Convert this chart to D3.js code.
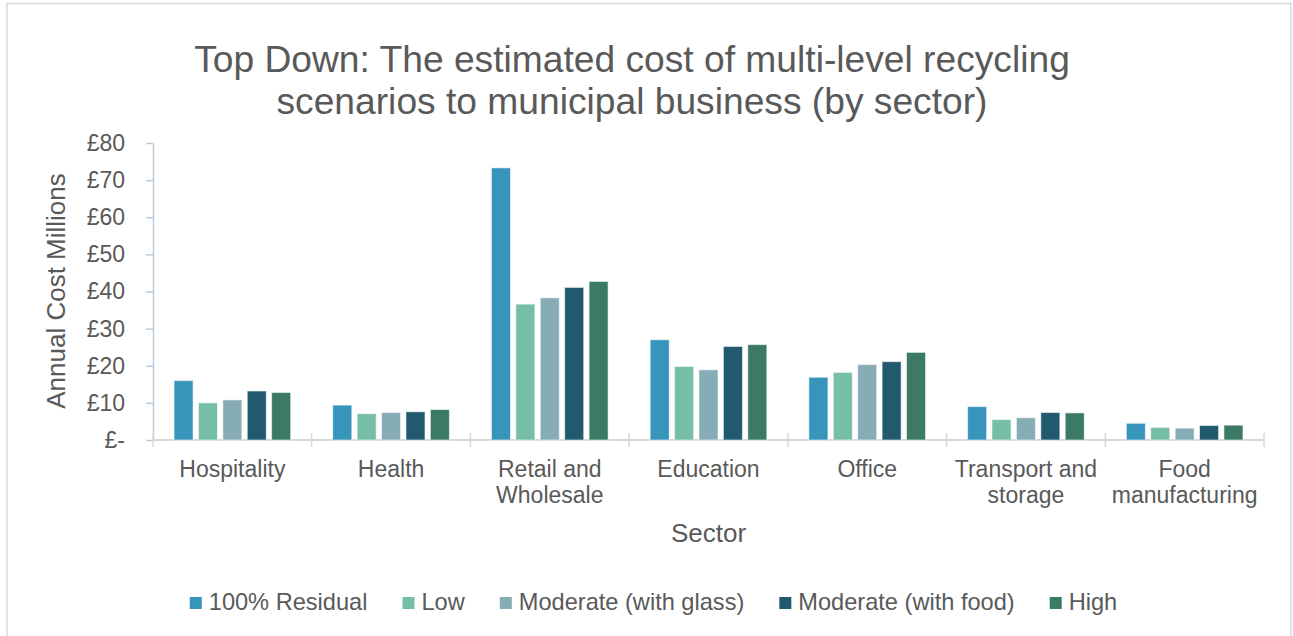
<!DOCTYPE html>
<html>
<head>
<meta charset="utf-8">
<script src="https://cdn.jsdelivr.net/npm/d3@7"></script>
<style>
  html, body { margin: 0; padding: 0; background: #fff; }
  svg { display: block; font-family: "Liberation Sans", Arial, sans-serif; }
</style>
</head>
<body>
<svg id="chart" width="1293" height="636"></svg>
<script>
// Sectors on the x axis
const sectors = [
  ["Hospitality"],
  ["Health"],
  ["Retail and", "Wholesale"],
  ["Education"],
  ["Office"],
  ["Transport and", "storage"],
  ["Food", "manufacturing"]
];

// Recycling scenarios (series)
const scenarios = ["100% Residual", "Low", "Moderate (with glass)", "Moderate (with food)", "High"];
const scenarioColors = ["#3794BB", "#77BEA6", "#86ACB6", "#215A6F", "#3B7B66"];

// Annual cost (£ millions) per scenario, one value per sector
const residual100 = [16.0, 9.4, 73.3, 27.0, 16.9, 9.0, 4.5];
const low         = [10.0, 7.1, 36.6, 19.8, 18.2, 5.5, 3.4];
const modGlass    = [10.8, 7.4, 38.3, 18.9, 20.3, 6.0, 3.2];
const modFood     = [13.2, 7.6, 41.1, 25.2, 21.1, 7.4, 3.9];
const high        = [12.8, 8.2, 42.7, 25.7, 23.6, 7.3, 4.0];
const seriesValues = [residual100, low, modGlass, modFood, high];

// Value axis ticks
const yTicks = [0, 10, 20, 30, 40, 50, 60, 70, 80];
const yTickLabel = v => v === 0 ? "£-" : "£" + v;

const titleLines = [
  "Top Down: The estimated cost of multi-level recycling",
  "scenarios to municipal business (by sector)"
];

const textColor = "#595959";
const svg = d3.select("#chart");

// Outer frame
svg.append("rect")
  .attr("x", 7).attr("y", 3.5)
  .attr("width", 1284).attr("height", 650)
  .attr("fill", "none").attr("stroke", "#D9D9D9").attr("stroke-width", 1.5);

const plot = { left: 153, right: 1264, top: 143, bottom: 440 };
const sectorKeys = sectors.map(s => s.join(" "));

const x0 = d3.scaleBand()
  .domain(sectorKeys)
  .range([plot.left, plot.right])
  .paddingInner(0.265)
  .paddingOuter(0.1325);

const x1 = d3.scaleBand()
  .domain(scenarios)
  .range([0, x0.bandwidth()])
  .paddingInner(0.22);

const y = d3.scaleLinear().domain([0, 80]).range([plot.bottom, plot.top]);

// Title
svg.append("text")
  .attr("x", 632).attr("y", 72)
  .attr("text-anchor", "middle")
  .attr("fill", textColor)
  .style("font-size", "37.2px")
  .selectAll("tspan")
  .data(titleLines)
  .join("tspan")
  .attr("x", 632)
  .attr("dy", (d, i) => i === 0 ? 0 : 42)
  .text(d => d);

// Y axis
const yAxis = d3.axisLeft(y)
  .tickValues(yTicks)
  .tickFormat(yTickLabel)
  .tickSizeInner(7)
  .tickSizeOuter(0)
  .tickPadding(21);

const yG = svg.append("g")
  .attr("transform", `translate(${plot.left},0)`)
  .call(yAxis);
yG.select(".domain").attr("stroke", "#B9CCDD").attr("stroke-width", 1.5);
yG.selectAll(".tick line").attr("stroke", "#B9CCDD").attr("stroke-width", 1.5);
yG.selectAll(".tick text")
  .attr("fill", textColor)
  .style("font-size", "23px")
  .style("font-family", "'Liberation Sans', Arial, sans-serif");

// X axis baseline and category separators
const xG = svg.append("g");
xG.append("line")
  .attr("x1", plot.left).attr("x2", plot.right)
  .attr("y1", y(0)).attr("y2", y(0))
  .attr("stroke", "#D9D9D9").attr("stroke-width", 2);

const boundaries = sectorKeys.map(k => x0(k) - x0.step() * x0.paddingInner() / 2)
  .concat([plot.right]);
xG.selectAll("line.sep")
  .data(boundaries)
  .join("line")
  .attr("class", "sep")
  .attr("x1", d => d).attr("x2", d => d)
  .attr("y1", y(0) - 7).attr("y2", y(0) + 7)
  .attr("stroke", "#D9D9D9").attr("stroke-width", 1.5);

// Bars
const groups = svg.append("g")
  .selectAll("g")
  .data(sectorKeys)
  .join("g")
  .attr("transform", d => `translate(${x0(d)},0)`);

groups.selectAll("rect")
  .data((d, i) => scenarios.map((s, j) => ({ s, j, v: seriesValues[j][i] })))
  .join("rect")
  .attr("x", d => x1(d.s))
  .attr("y", d => y(d.v))
  .attr("width", x1.bandwidth())
  .attr("height", d => y(0) - y(d.v))
  .attr("fill", d => scenarioColors[d.j])
  .attr("stroke", "#ffffff")
  .attr("stroke-opacity", 0.55)
  .attr("stroke-width", 1);

// Category labels
svg.append("g")
  .selectAll("text")
  .data(sectors)
  .join("text")
  .attr("text-anchor", "middle")
  .attr("fill", textColor)
  .style("font-size", "23px")
  .attr("transform", (d, i) => `translate(${x0(sectorKeys[i]) + x0.bandwidth() / 2},477)`)
  .selectAll("tspan")
  .data(d => d)
  .join("tspan")
  .attr("x", 0)
  .attr("dy", (d, i) => i === 0 ? 0 : 26)
  .text(d => d);

// Axis titles
svg.append("text")
  .attr("x", (plot.left + plot.right) / 2).attr("y", 542)
  .attr("text-anchor", "middle")
  .attr("fill", textColor)
  .style("font-size", "26px")
  .text("Sector");

svg.append("text")
  .attr("transform", "translate(65,291) rotate(-90)")
  .attr("text-anchor", "middle")
  .attr("fill", textColor)
  .style("font-size", "26px")
  .text("Annual Cost Millions");

// Legend
const legend = svg.append("g");
const legendItems = legend.selectAll("g")
  .data(scenarios)
  .join("g");
legendItems.append("rect")
  .attr("width", 12).attr("height", 12)
  .attr("y", 597)
  .attr("fill", (d, i) => scenarioColors[i]);
legendItems.append("text")
  .attr("x", 19).attr("y", 610)
  .attr("fill", textColor)
  .style("font-size", "23.6px")
  .text(d => d);

let cursor = 0;
const positions = [];
legendItems.each(function () {
  const w = d3.select(this).select("text").node().getComputedTextLength();
  positions.push(cursor);
  cursor += 19 + w + 35;
});
const legendWidth = cursor - 35;
const legendStart = 653.5 - legendWidth / 2;
legendItems.attr("transform", (d, i) => `translate(${legendStart + positions[i]},0)`);
</script>
</body>
</html>
